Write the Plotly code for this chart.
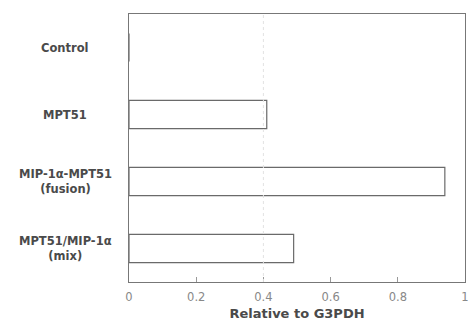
import plotly.graph_objects as go

categories = ["Control", "MPT51", "MIP-1α-MPT51<br>(fusion)", "MPT51/MIP-1α<br>(mix)"]
values = [0.0, 0.41, 0.94, 0.49]
tick_vals = [0, 0.2, 0.4, 0.6, 0.8, 1]
tick_text = ["0", "0.2", "0.4", "0.6", "0.8", "1"]
x_title = "Relative to G3PDH"

fig = go.Figure()
fig.add_trace(go.Bar(
    y=categories, x=values, orientation="h",
    marker=dict(color="white", line=dict(color="#6a6a6a", width=1.2)),
    width=0.42, hoverinfo="skip",
))

for c in categories:
    fig.add_annotation(
        x=-0.19, xref="paper", y=c, yref="y", text="<b>" + c + "</b>", showarrow=False,
        font=dict(family="DejaVu Sans", size=11.5, color="#4a4a4a"),
        align="center", xanchor="center", yanchor="middle",
    )

fig.update_layout(
    width=471, height=325,
    margin=dict(l=129, r=6, t=14, b=43),
    paper_bgcolor="white", plot_bgcolor="white",
    showlegend=False,
    font=dict(family="DejaVu Sans", color="#555"),
    xaxis=dict(
        range=[0, 1], tickvals=tick_vals, ticktext=tick_text,
        tickfont=dict(size=11.5, color="#888"),
        ticks="inside", ticklen=5, tickcolor="#999",
        ticklabelstandoff=4,
        showgrid=False, zeroline=False, automargin=False,
        ticklabeloverflow="allow",
        showline=True, linecolor="#777", linewidth=1, mirror=True,
        title=dict(text="<b>" + x_title + "</b>", font=dict(size=13, color="#4a4a4a"), standoff=6),
    ),
    yaxis=dict(
        categoryorder="array", categoryarray=categories,
        autorange="reversed", automargin=False,
        showticklabels=False, ticks="",
        showgrid=False, zeroline=False,
        showline=True, linecolor="#777", linewidth=1, mirror=True,
    ),
    bargap=0.58,
)
fig.add_vline(x=0.4, line=dict(color="#e2e2e2", width=1, dash="dot"))

fig.write_html("out.html", config={"displayModeBar": False},
               post_script="document.body.style.margin='0';")
